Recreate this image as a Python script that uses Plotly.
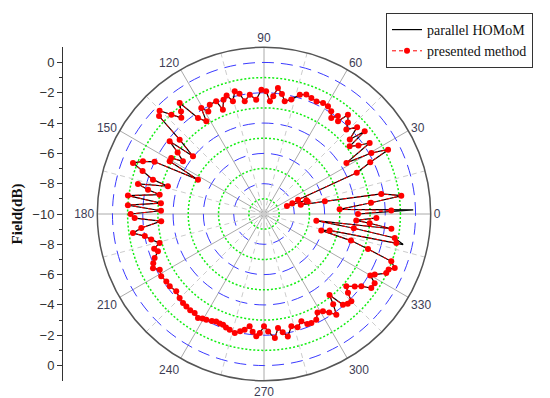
import numpy as np
import plotly.graph_objects as go

# ---------------- data ----------------
theta_deg = [0, 1.6, 3.5, 6, 7.6, 9.7, 11.8, 14, 16, 18, 19, 21, 22.8, 24, 26, 27.4, 29.6, 31.8,
             33.9, 36, 38.3, 39.4, 41, 43, 45.7, 47.5, 49.8, 51.4, 53, 55, 56.8, 59.3, 62, 65,
             67.8, 70.5, 73.3, 76.6, 79.6, 81.5, 83.7, 85.5, 87, 89, 91.2, 93.9, 96.8, 99.7,
             101.5, 103.4, 105.4, 107.5, 109.5, 111.5, 113, 116.4, 118.5, 120.6, 121.9, 124.5,
             127.2, 129, 130.7, 133, 135.3, 137, 138.6, 140.9, 142.4, 144.5, 147, 148.9, 150.8,
             152.5, 154.5, 156.5, 158.7, 160.5, 162.8, 163.9, 166.6, 168.2, 169.5, 172.3, 174,
             176.3, 178.2, 180, 181.8, 184, 186.5, 188.3, 190.5, 192.8, 195.5, 197.5, 199.4,
             201.9, 204, 206, 208.1, 211.2, 214.6, 217.5, 221.4, 224.9, 227.7, 230, 232.5, 235,
             237.6, 239.5, 241.4, 244, 246, 248, 249.7, 251.5, 253.5, 256.2, 258.5, 260.5, 262.7,
             264.5, 266.4, 268, 270, 272, 275, 277, 279, 281, 283.7, 286.5, 289.2, 291.5, 293.5,
             296.3, 298.5, 301.2, 303.5, 305.7, 307.5, 309, 311, 313, 315, 316.8, 318.7, 321.4,
             323.4, 325.4, 328, 330, 331.3, 334.2, 336, 337.6, 339.6, 341.4, 343, 344, 346, 347.6,
             349.6, 351, 352.7, 353.4, 355, 356, 358]

presented_db = [-3.8, -1.6, -5.0, -2.9, -0.86, -2.15, -5.9, -7.5, -7.0, -7.06, -8.4, -8.0, -7.56,
                -3.3, -2.2, -0.78, -1.85, -3.6, -1.6, -2.3, -2.8, -1.4, -2.5, -1.6, -2.22, -1.8,
                -1.42, -2.17, -1.9, -2.26, -1.9, -1.73, -1.7, -1.8, -1.73, -1.64, -1.78, -2.24,
                -2.43, -2.0, -1.63, -2.2, -2.55, -1.9, -1.8, -2.44, -2.07, -2.45, -1.9, -1.68,
                -2.28, -1.8, -2.0, -2.6, -1.92, -1.95, -2.3, -1.87, -2.8, -2.31, -0.8, -1.3,
                -1.63, -1.04, -0.31, -0.53, -2.58, -3.96, -2.14, -3.0, -3.62, -2.85, -2.87,
                -5.09, -2.0, -1.29, -0.72, -1.5, -2.33, -3.4, -1.45, -2.18, -3.0, -0.94, -3.16,
                -1.0, -3.2, -1.2, -1.46, -3.2, -1.85, -1.26, -2.0, -2.37, -2.85, -2.4, -2.58,
                -2.22, -2.0, -1.85, -2.2, -2.07, -2.17, -2.16, -2.28, -2.14, -2.06, -2.03, -2.0,
                -2.02, -1.87, -2.0, -2.05, -2.15, -2.24, -2.2, -2.21, -2.1, -2.03, -1.91, -2.1,
                -2.26, -2.53, -2.2, -1.91, -2.14, -2.59, -2.25, -1.78, -2.42, -2.1, -1.77, -2.37,
                -2.2, -2.5, -2.2, -2.16, -2.22, -2.6, -2.49, -2.2, -1.82, -2.5, -3.13, -2.06,
                -1.9, -1.85, -2.4, -2.77, -2.34, -2.0, -1.4, -1.39, -1.9, -1.67, -1.04, -1.0,
                -0.67, -1.04, -2.76, -4.0, -6.07, -5.53, -1.06, -1.23, -4.0, -6.52, -1.54, -3.0,
                -3.9, -2.58]

homom_db = [-3.8, -0.15, -5.0, -2.9, -0.8, -2.15, -5.9, -7.5, -7.0, -7.06, -8.4, -8.0, -7.56,
            -3.3, -2.2, -0.7, -1.85, -3.6, -1.6, -2.3, -2.8, -1.4, -2.5, -1.6, -2.22, -1.8,
            -1.42, -2.17, -1.9, -2.26, -1.9, -1.73, -1.7, -1.8, -1.73, -1.64, -1.78, -2.24,
            -2.43, -2.0, -1.63, -2.2, -2.55, -1.9, -1.8, -2.44, -2.07, -2.45, -1.9, -1.68,
            -2.28, -1.8, -2.0, -2.6, -1.92, -1.95, -2.3, -1.87, -2.8, -2.31, -0.8, -1.3,
            -1.63, -1.04, -0.31, -0.53, -2.58, -3.96, -2.14, -3.0, -3.62, -2.85, -2.87,
            -5.09, -2.0, -1.29, -0.72, -1.5, -2.33, -3.4, -1.45, -2.18, -3.0, -0.94, -3.16,
            -1.0, -3.2, -1.2, -1.46, -3.2, -1.85, -1.26, -2.0, -2.37, -2.85, -2.4, -2.58,
            -2.22, -2.0, -1.85, -2.2, -2.07, -2.17, -2.16, -2.28, -2.14, -2.06, -2.03, -2.0,
            -2.02, -1.87, -2.0, -2.05, -2.15, -2.24, -2.2, -2.21, -2.1, -2.03, -1.91, -2.1,
            -2.26, -2.53, -2.2, -1.91, -2.14, -2.59, -2.25, -1.78, -2.42, -2.1, -1.77, -2.37,
            -2.2, -2.5, -2.2, -2.16, -2.22, -2.6, -2.49, -2.2, -1.82, -2.5, -3.13, -2.06,
            -1.9, -1.85, -2.4, -2.77, -2.34, -2.0, -1.4, -1.39, -1.9, -1.67, -1.04, -1.0,
            -0.67, -1.04, -2.76, -4.0, -6.07, -5.53, -0.6, -1.23, -4.0, -6.52, -1.54, -3.0,
            -3.9, -2.58]

angle_ticks = [0, 30, 60, 90, 120, 150, 180, 210, 240, 270, 300, 330]
radial_major = [-8, -6, -4, -2, 0]
radial_minor = [-9, -7, -5, -3, -1]
minor_spokes = [15, 45, 75, 105, 135, 165, 195, 225, 255, 285, 315, 345]
r_min, r_max = -10, 1

# ---------------- figure ----------------
W, H = 550, 398
cx, cy, R = 256, 206, 166.7
dom_x = [(cx - R) / W, (cx + R) / W]
dom_y = [1 - (cy + R) / H, 1 - (cy - R) / H]

fig = go.Figure()

circ = np.linspace(0, 360, 721)
for rv in radial_minor:
    fig.add_trace(go.Scatterpolar(r=[rv] * len(circ), theta=circ, mode="lines",
                                  line=dict(color="#11ee11", width=1.5, dash="2px,2px"),
                                  hoverinfo="skip", showlegend=False))
for a in minor_spokes:
    fig.add_trace(go.Scatterpolar(r=[r_min, r_max], theta=[a, a], mode="lines",
                                  line=dict(color="#cccccc", width=1, dash="5px,4px"),
                                  hoverinfo="skip", showlegend=False))

fig.add_trace(go.Scatterpolar(r=homom_db, theta=theta_deg, mode="lines",
                              name="parallel HOMoM",
                              line=dict(color="black", width=1.2)))
fig.add_trace(go.Scatterpolar(r=presented_db, theta=theta_deg, mode="lines+markers",
                              name="presented method",
                              line=dict(color="red", width=1, dash="4px,3px"),
                              marker=dict(color="red", size=6)))

# invisible cartesian trace so the left axis is drawn
fig.add_trace(go.Scatter(x=[0.5], y=[0], mode="markers", marker=dict(opacity=0),
                         hoverinfo="skip", showlegend=False))

tickvals = list(range(-10, 11, 2))
ticktext = [str(abs(v) - 10).replace("-", "\u2212") for v in tickvals]
minor_vals = list(range(-9, 10, 2))

fig.update_layout(
    width=W, height=H,
    margin=dict(l=0, r=0, t=0, b=0),
    paper_bgcolor="white", plot_bgcolor="rgba(0,0,0,0)",
    font=dict(family="Liberation Sans, Arial", size=12, color="#333"),
    polar=dict(
        domain=dict(x=dom_x, y=dom_y),
        bgcolor="white",
        radialaxis=dict(range=[r_min, r_max], tickvals=radial_major, showticklabels=False,
                        ticks="", showline=False, gridcolor="#3a3aff", griddash="12px,7px",
                        gridwidth=1.2),
        angularaxis=dict(rotation=0, direction="counterclockwise", tickvals=angle_ticks,
                         ticktext=[str(a) for a in angle_ticks], ticks="",
                         showline=True, linecolor="#555555", linewidth=1.5,
                         gridcolor="#aaaaaa", gridwidth=1,
                         tickfont=dict(family="Liberation Sans, Arial", size=12,
                                       color="#3d3d55")),
    ),
    xaxis=dict(domain=[55 / W, 0.99], range=[0, 1], visible=False, fixedrange=True),
    yaxis=dict(domain=dom_y, range=[-11, 11], tickvals=tickvals, ticktext=ticktext,
               ticks="outside", ticklen=5, tickcolor="#333", showline=True,
               linecolor="#333", linewidth=1, showgrid=False, zeroline=False,
               automargin=False,
               minor=dict(tickvals=minor_vals, ticks="outside", ticklen=3, tickcolor="#333"),
               tickfont=dict(family="Liberation Sans, Arial", size=13, color="#333"),
               title=dict(text="<b>Field(dB)</b>", standoff=6,
                          font=dict(family="Liberation Serif, Times New Roman", size=15,
                                    color="#111"))),
    legend=dict(x=378 / W, y=1 - 5 / H, xanchor="left", yanchor="top",
                bgcolor="white", bordercolor="#333", borderwidth=1,
                font=dict(family="Liberation Serif, Times New Roman", size=14, color="#111"),
                tracegroupgap=0, itemwidth=30),
)

fig.write_html("out.html")
